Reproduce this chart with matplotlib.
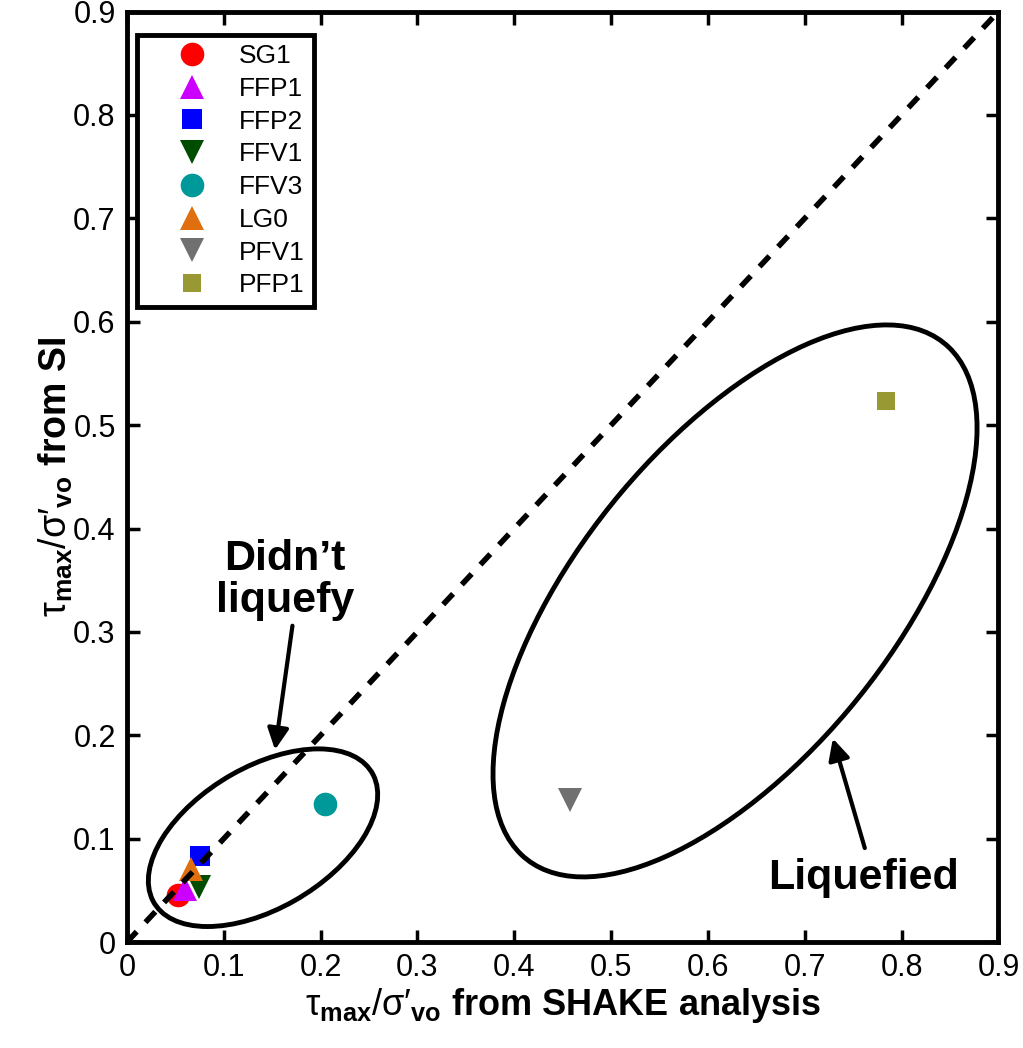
import numpy as np
import matplotlib.pyplot as plt
from matplotlib.patches import Ellipse

# Site data: tau_max / sigma'_vo from SHAKE (x) and from SI (y)
sites = ['SG1', 'FFP1', 'FFP2', 'FFV1', 'FFV3', 'LG0', 'PFV1', 'PFP1']
shake = [0.053, 0.060, 0.076, 0.075, 0.205, 0.066, 0.458, 0.784]
si = [0.046, 0.051, 0.083, 0.053, 0.134, 0.071, 0.137, 0.523]
markers = ['o', '^', 's', 'v', 'o', '^', 'v', 's']
colors = ['#ff0000', '#cc00ff', '#0000ff', '#004d00', '#009999',
          '#e0700f', '#707070', '#999933']
sizes = [17, 17, 14, 17, 17, 17, 17, 13]

plt.rcParams['font.family'] = ['Liberation Sans', 'DejaVu Sans']
plt.rcParams['mathtext.fontset'] = 'custom'
plt.rcParams['mathtext.rm'] = 'Liberation Sans'
plt.rcParams['mathtext.it'] = 'Liberation Sans'
plt.rcParams['mathtext.bf'] = 'Liberation Sans:bold'

fig = plt.figure(figsize=(10.23, 10.48), dpi=100)
ax = fig.add_axes([0.124, 0.101, 0.852, 0.888])

for name, x, y, m, c, s in zip(sites, shake, si, markers, colors, sizes):
    ax.plot(x, y, linestyle='none', marker=m, color=c, markersize=s,
            markeredgewidth=0, label=name, zorder=3)

# 1:1 line
ax.plot([0, 0.9], [0, 0.9], color='black', linestyle=(0, (2.6, 2.3)), linewidth=4, zorder=4)

# Groupings
ax.add_patch(Ellipse((0.1406, 0.101), 0.258, 0.138, angle=28,
                     fill=False, edgecolor='black', linewidth=3.5, zorder=5))
ax.add_patch(Ellipse((0.628, 0.33), 0.66, 0.315, angle=48,
                     fill=False, edgecolor='black', linewidth=3.5, zorder=5))

arrow = dict(arrowstyle='-|>', color='black', lw=3, mutation_scale=32,
             shrinkA=0, shrinkB=0)
ax.text(0.163, 0.35, 'Didn\u2019t\nliquefy', ha='center', va='center',
        fontsize=31, fontweight='bold', linespacing=1.05)
ax.annotate('', xy=(0.153, 0.186), xytext=(0.171, 0.306), arrowprops=arrow)
ax.text(0.761, 0.062, 'Liquefied', ha='center', va='center',
        fontsize=31, fontweight='bold')
ax.annotate('', xy=(0.729, 0.197), xytext=(0.762, 0.091), arrowprops=arrow)

ax.set_xlim(0, 0.9)
ax.set_ylim(0, 0.9)
ticks = np.arange(0, 0.91, 0.1)
tick_labels = ['0', '0.1', '0.2', '0.3', '0.4', '0.5', '0.6', '0.7', '0.8', '0.9']
ax.set_xticks(ticks)
ax.set_xticklabels(tick_labels)
ax.set_yticks(ticks)
ax.set_yticklabels(tick_labels)
ax.tick_params(direction='in', length=9, width=2.5, labelsize=22,
               top=True, right=True, pad=8)
for sp in ax.spines.values():
    sp.set_linewidth(3.5)

ax.set_xlabel(r'$\mathrm{\tau}_{\mathbf{max}}/\mathrm{\sigma}\prime_{\mathbf{vo}}$ from SHAKE analysis',
              fontsize=26, fontweight='bold', labelpad=2)
ax.set_ylabel(r'$\mathrm{\tau}_{\mathbf{max}}/\mathrm{\sigma}\prime_{\mathbf{vo}}$ from SI',
              fontsize=27, fontweight='bold', labelpad=-1)

leg = ax.legend(loc='upper left', bbox_to_anchor=(0.0115, 0.975), fontsize=19,
                frameon=True, fancybox=False, edgecolor='black', framealpha=1,
                handlelength=3.45, handletextpad=0.05, labelspacing=0.33,
                borderpad=0.36, borderaxespad=0, numpoints=1)
leg.get_frame().set_linewidth(3.5)

fig.savefig('out.png', dpi=100)
